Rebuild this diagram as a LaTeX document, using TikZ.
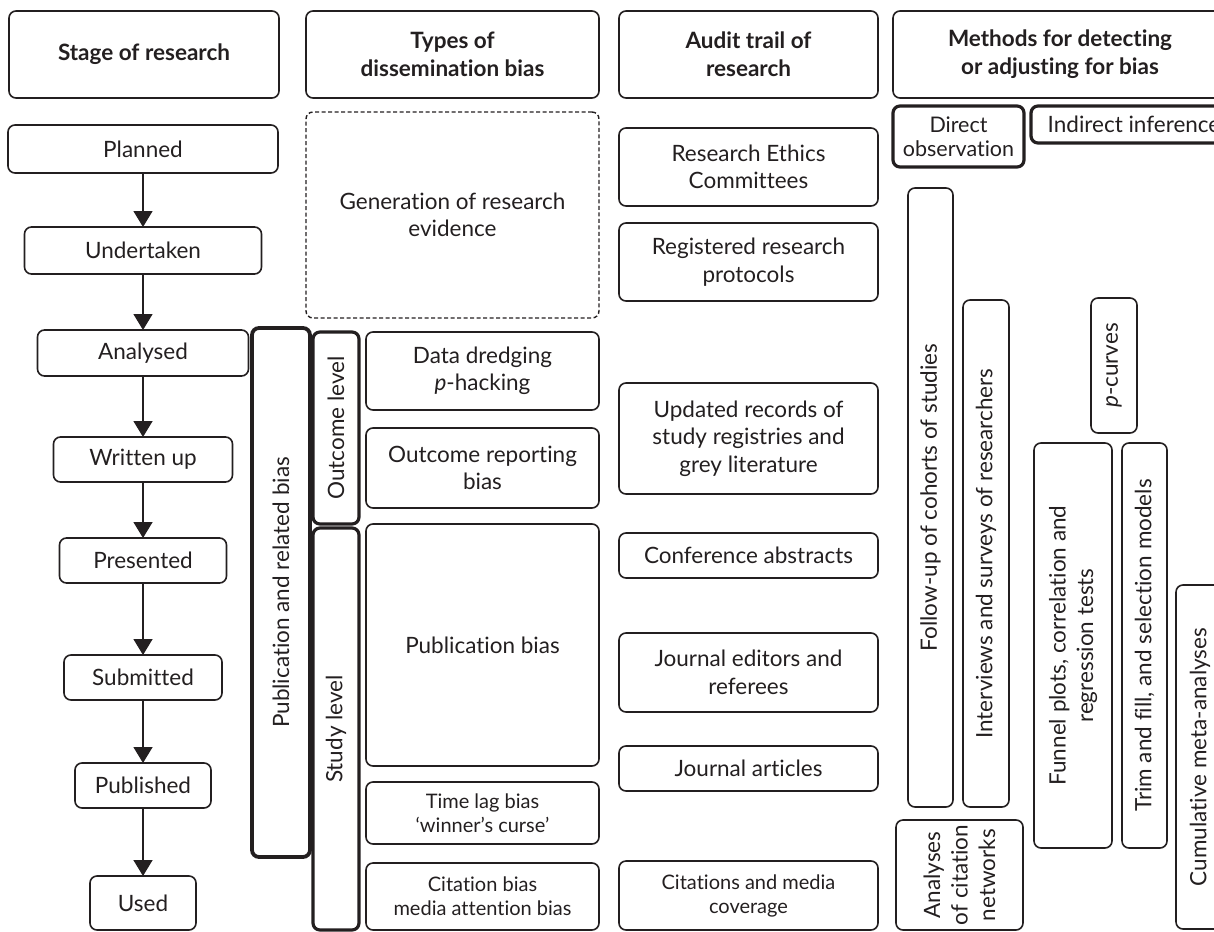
\documentclass[tikz,border=0pt]{standalone}
\usepackage{fontspec}
\setmainfont{Lato}[Ligatures=NoCommon]
\usetikzlibrary{arrows.meta}
\definecolor{ink}{RGB}{35,31,32}
\begin{document}
\begin{tikzpicture}[x=1pt,y=-1pt,
  font=\fontsize{22.5}{27.5}\selectfont,
  box/.style={draw=ink, text=ink, line width=1.6pt, rounded corners=7pt, align=center, inner sep=0pt, outer sep=0pt},
  thickbox/.style={box, line width=3.2pt},
  dashbox/.style={box, dash pattern=on 4pt off 2.5pt, line width=1.4pt},
  hdr/.style={box, font=\bfseries\fontsize{22.5}{28}\selectfont},
  smalltext/.style={font=\fontsize{20}{24}\selectfont},
  vert/.style={rotate=90},
  flow/.style={draw=ink, line width=1.6pt, -{Triangle[width=19pt,length=16pt]}}]
\useasboundingbox (0,0) rectangle (1214,931);
\clip (0,0) rectangle (1214,931);

% headers
\node[hdr, minimum width=270pt, minimum height=87pt] (h1) at (144,54.5) {Stage of research};
\node[hdr, minimum width=293pt, minimum height=87pt] (h2) at (452.5,54.5) {Types of\\dissemination bias};
\node[hdr, minimum width=259pt, minimum height=87pt] (h3) at (748.5,54.5) {Audit trail of\\research};
\node[hdr, minimum width=334pt, minimum height=87pt] (h4) at (1060,54.5) {Methods for detecting\\or adjusting for bias};

% stage column
\node[box, minimum width=270pt, minimum height=48pt] (planned) at (143,149) {Planned};
\node[box, minimum width=237pt, minimum height=47pt] (undertaken) at (143,250.5) {Undertaken};
\node[box, minimum width=211pt, minimum height=46pt] (analysed) at (143,353) {Analysed};
\node[box, minimum width=179pt, minimum height=45pt] (written) at (143,459.5) {Written up};
\node[box, minimum width=167pt, minimum height=45pt] (presented) at (143,560.5) {Presented};
\node[box, minimum width=158pt, minimum height=45pt] (submitted) at (143,677.5) {Submitted};
\node[box, minimum width=136pt, minimum height=45pt] (published) at (143,785.5) {Published};
\node[box, minimum width=106pt, minimum height=54pt] (used) at (143,903) {Used};

\draw[flow] (planned) -- (undertaken);
\draw[flow] (undertaken) -- (analysed);
\draw[flow] (analysed) -- (written);
\draw[flow] (written) -- (presented);
\draw[flow] (presented) -- (submitted);
\draw[flow] (submitted) -- (published);
\draw[flow] (published) -- (used);

% types column
\node[dashbox, minimum width=293pt, minimum height=206pt] (gen) at (452.5,215) {Generation of research\\evidence};
\node[thickbox, vert, line width=3.8pt, minimum width=529pt, minimum height=58pt] (pubrel) at (281,592.5) {Publication and related bias};
\node[thickbox, vert, minimum width=192pt, minimum height=46pt] (outcome) at (336,428) {Outcome level};
\node[thickbox, vert, minimum width=402pt, minimum height=46pt] (study) at (336,729) {Study level};
\node[box, minimum width=233pt, minimum height=78pt] (dredge) at (482.5,371) {Data dredging\\\textit{p}-hacking};
\node[box, minimum width=233pt, minimum height=80pt] (orb) at (482.5,468) {Outcome reporting\\bias};
\node[box, minimum width=233pt, minimum height=242pt] (pubbias) at (482.5,645) {Publication bias};
\node[box, smalltext, minimum width=233pt, minimum height=62pt] (timelag) at (482.5,813) {Time lag bias\\`winner's curse'};
\node[box, smalltext, minimum width=233pt, minimum height=67pt] (citbias) at (482.5,896.5) {Citation bias\\media attention bias};

% audit column
\node[box, minimum width=259pt, minimum height=78pt] (rec) at (748.5,167) {Research Ethics\\Committees};
\node[box, minimum width=259pt, minimum height=78pt] (reg) at (748.5,262) {Registered research\\protocols};
\node[box, minimum width=259pt, minimum height=111pt] (upd) at (748.5,438.5) {Updated records of\\study registries and\\grey literature};
\node[box, minimum width=259pt, minimum height=45pt] (conf) at (748.5,555.5) {Conference abstracts};
\node[box, minimum width=259pt, minimum height=79pt] (jed) at (748.5,672.5) {Journal editors and\\referees};
\node[box, minimum width=259pt, minimum height=45pt] (jart) at (748.5,768.5) {Journal articles};
\node[box, smalltext, minimum width=259pt, minimum height=69pt] (cit) at (748.5,895.5) {Citations and media\\coverage};

% methods column
\node[thickbox, minimum width=131pt, minimum height=61pt, font=\fontsize{21.5}{24}\selectfont] (direct) at (958.5,136.5) {Direct\\observation};
\node[thickbox, minimum width=195pt, minimum height=37pt, anchor=west] (indirect) at (1031,124.5) {\hspace*{11pt}Indirect inference\hfill};
\node[box, vert, minimum width=619pt, minimum height=45pt] (follow) at (930.5,497.5) {Follow-up of cohorts of studies};
\node[box, vert, minimum width=507pt, minimum height=46pt] (interv) at (986,553.5) {Interviews and surveys of researchers};
\node[box, vert, minimum width=135pt, minimum height=46pt] (pcurves) at (1114,365.5) {\textit{p}-curves};
\node[box, vert, minimum width=405pt, minimum height=78pt] (funnel) at (1073,645.5) {Funnel plots, correlation and\\regression tests};
\node[box, vert, minimum width=405pt, minimum height=45pt] (trim) at (1144.5,645.5) {Trim and fill, and selection models};
\node[box, vert, minimum width=344pt, minimum height=48pt] (cumul) at (1200,757) {Cumulative meta-analyses};
\node[box, vert, minimum width=110pt, minimum height=127pt] (analyses) at (959.5,875) {Analyses\\of citation\\networks};
\end{tikzpicture}
\end{document}
